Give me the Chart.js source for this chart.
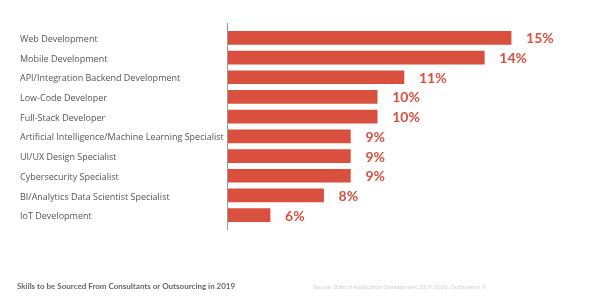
<!DOCTYPE html>
<html>
<head>
<meta charset="utf-8">
<script src="https://cdn.jsdelivr.net/npm/chart.js@4.4.1/dist/chart.umd.min.js"></script>
<style>
  html, body { margin: 0; padding: 0; background: #fff; }
  #wrap { position: relative; width: 595px; height: 307px; overflow: hidden; }
  #chart { position: absolute; left: 0; top: 0; }
  .foot { position: absolute; font-family: Lato, sans-serif; white-space: nowrap; line-height: 1; }
  #titulo { left: 17px; top: 281.5px; font-size: 8px; font-weight: 700; color: #666; }
  #fuente { left: 313px; top: 284px; font-size: 5.7px; color: #cfcfcf; }
</style>
</head>
<body>
<div id="wrap">
  <canvas id="chart" width="595" height="307"></canvas>
  <div class="foot" id="titulo">Skills to be Sourced From Consultants or Outsourcing in 2019</div>
  <div class="foot" id="fuente">Source: State of Application Development 2019/2020, OutSystems ©</div>
</div>
<script>
// datos
const categorias = [
    "Web Development",
    "Mobile Development",
    "API/Integration Backend Development",
    "Low-Code Developer",
    "Full-Stack Developer",
    "Artificial Intelligence/Machine Learning Specialist",
    "UI/UX Design Specialist",
    "Cybersecurity Specialist",
    "BI/Analytics Data Scientist Specialist",
    "IoT Development"
];
const valores = [15, 14, 11, 10, 10, 9, 9, 9, 8, 6];

const ROJO = '#d9503f';

// etiquetas de valor al final de cada barra
const etiquetasPlugin = {
    id: 'etiquetas',
    afterDatasetsDraw(chart) {
        const ctx = chart.ctx;
        const meta = chart.getDatasetMeta(0);
        ctx.save();
        ctx.font = "bold 14px Lato, sans-serif";
        ctx.fillStyle = ROJO;
        ctx.textAlign = 'left';
        ctx.textBaseline = 'middle';
        meta.data.forEach((bar, i) => {
            ctx.fillText(valores[i] + '%', bar.x + 15, bar.y + 1);
        });
        ctx.restore();
    }
};

// linea vertical del eje
const ejePlugin = {
    id: 'eje',
    beforeDatasetsDraw(chart) {
        const ctx = chart.ctx;
        const x = chart.chartArea.left - 0.5;
        ctx.save();
        ctx.strokeStyle = '#999';
        ctx.lineWidth = 1;
        ctx.beginPath();
        ctx.moveTo(x, chart.chartArea.top - 5);
        ctx.lineTo(x, chart.chartArea.bottom + 5);
        ctx.stroke();
        ctx.restore();
    }
};

new Chart(document.getElementById('chart'), {
    type: 'bar',
    data: {
        labels: categorias,
        datasets: [{
            data: valores,
            backgroundColor: ROJO,
            borderWidth: 0,
            barThickness: 13
        }]
    },
    options: {
        indexAxis: 'y',
        responsive: false,
        animation: false,
        devicePixelRatio: 1,
        layout: { padding: { top: 28, bottom: 82, left: 20, right: 25 } },
        plugins: {
            legend: { display: false },
            tooltip: { enabled: false }
        },
        scales: {
            x: {
                display: false,
                min: 4.43,
                max: 17.2
            },
            y: {
                grid: { display: false, drawTicks: false },
                border: { display: false },
                ticks: {
                    crossAlign: 'far',
                    color: '#555',
                    padding: 0,
                    labelOffset: 1.5,
                    font: { family: "'Open Sans', sans-serif", size: 9 }
                },
                afterFit(scale) { scale.width = 208; }
            }
        }
    },
    plugins: [etiquetasPlugin, ejePlugin]
});
</script>
</body>
</html>
